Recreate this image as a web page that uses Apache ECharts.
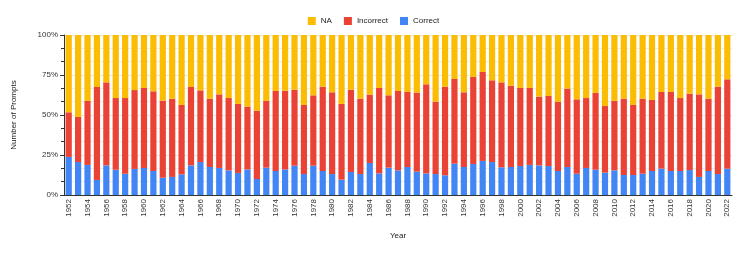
<!DOCTYPE html>
<html>
<head>
<meta charset="utf-8">
<script src="https://cdn.jsdelivr.net/npm/echarts@6/dist/echarts.min.js"></script>
<style>html,body{margin:0;padding:0;background:#fff}#c{width:747px;height:253px}</style>
</head>
<body>
<div id="c"></div>
<script>
const years = ["1952","1953","1954","1955","1956","1957","1958","1959","1960","1961","1962","1963","1964","1965","1966","1967","1968","1969","1970","1971","1972","1973","1974","1975","1976","1977","1978","1979","1980","1981","1982","1983","1984","1985","1986","1987","1988","1989","1990","1991","1992","1993","1994","1995","1996","1997","1998","1999","2000","2001","2002","2003","2004","2005","2006","2007","2008","2009","2010","2011","2012","2013","2014","2015","2016","2017","2018","2019","2020","2021","2022"];
const correct = [23.8,20.6,18.8,9.4,18.5,15.8,13.3,16.3,16.9,15.0,10.8,11.3,12.9,18.5,20.6,17.5,16.9,15.4,13.8,16.0,10.0,17.1,15.0,16.0,18.3,13.1,18.3,15.0,13.1,9.6,14.4,13.1,20.0,13.5,17.1,15.4,17.5,14.6,13.5,13.1,12.3,19.6,17.5,19.4,21.3,20.6,17.3,17.5,18.1,18.8,18.5,18.1,15.0,17.5,13.3,16.9,15.8,14.0,15.4,12.5,12.5,13.3,15.0,16.5,15.0,15.0,15.6,11.3,15.0,13.1,16.5];
const incorrect = [27.9,28.2,40.0,58.1,51.9,44.8,47.3,49.3,50.0,49.8,48.2,48.9,43.4,49.0,44.8,42.7,46.0,45.2,43.1,39.2,42.7,41.7,50.0,49.2,47.5,43.2,44.0,52.7,51.1,47.3,51.4,47.1,42.7,53.4,45.2,49.6,46.9,49.4,55.7,45.2,55.4,52.9,46.7,54.4,55.6,51.1,53.1,50.8,48.8,48.1,43.0,43.8,43.3,49.0,46.5,43.7,48.0,41.6,43.4,47.7,43.8,46.9,44.4,47.9,49.4,45.6,47.7,51.6,45.2,54.6,55.8];
const na = [48.3,51.2,41.2,32.5,29.6,39.4,39.4,34.4,33.1,35.2,41.0,39.8,43.7,32.5,34.6,39.8,37.1,39.4,43.1,44.8,47.3,41.2,35.0,34.8,34.2,43.7,37.7,32.3,35.8,43.1,34.2,39.8,37.3,33.1,37.7,35.0,35.6,36.0,30.8,41.7,32.3,27.5,35.8,26.2,23.1,28.3,29.6,31.7,33.1,33.1,38.5,38.1,41.7,33.5,40.2,39.4,36.2,44.4,41.2,39.8,43.7,39.8,40.6,35.6,35.6,39.4,36.7,37.1,39.8,32.3,27.7];
const yTicks = [0, 25, 50, 75, 100];

const font = 'Liberation Sans, Arial, sans-serif';
const chart = echarts.init(document.getElementById('c'), null, {renderer: 'canvas'});
chart.setOption({
  animation: false,
  textStyle: {fontFamily: font},
  legend: {
    top: 12, left: 'center',
    icon: 'rect', itemWidth: 8, itemHeight: 8, itemGap: 12,
    data: ['NA', 'Incorrect', 'Correct'],
    textStyle: {fontSize: 8, color: '#222', fontFamily: font}
  },
  grid: {left: 64, right: 15, top: 35, bottom: 58},
  xAxis: {
    type: 'category', data: years,
    name: 'Year', nameLocation: 'middle', nameGap: 37,
    nameTextStyle: {fontSize: 8, color: '#222', fontFamily: font},
    axisLine: {lineStyle: {color: '#333', width: 1}},
    axisTick: {show: false},
    axisLabel: {interval: 1, rotate: 90, fontSize: 8, color: '#333', margin: 4, fontFamily: font}
  },
  yAxis: {
    type: 'value', min: yTicks[0], max: yTicks[yTicks.length - 1], interval: 25,
    name: 'Number of Prompts', nameLocation: 'middle', nameGap: 46,
    nameTextStyle: {fontSize: 8, color: '#222', fontFamily: font},
    axisLine: {show: true, lineStyle: {color: '#333', width: 1}},
    axisTick: {show: true, length: 4, lineStyle: {color: '#333'}},
    minorTick: {show: true, splitNumber: 3, length: 3, lineStyle: {color: '#333'}},
    splitLine: {show: true, lineStyle: {color: '#e6e6e6', width: 1}},
    minorSplitLine: {show: true, lineStyle: {color: '#ececec', width: 1}},
    axisLabel: {formatter: '{value}%', fontSize: 8, color: '#333', margin: 6, fontFamily: font}
  },
  series: [
    {name: 'Correct', type: 'bar', stack: 'all', data: correct, barCategoryGap: '34%', itemStyle: {color: '#4285F4'}},
    {name: 'Incorrect', type: 'bar', stack: 'all', data: incorrect, itemStyle: {color: '#EA4335'}},
    {name: 'NA', type: 'bar', stack: 'all', data: na, itemStyle: {color: '#FBBC04'}}
  ]
});
</script>
</body>
</html>
